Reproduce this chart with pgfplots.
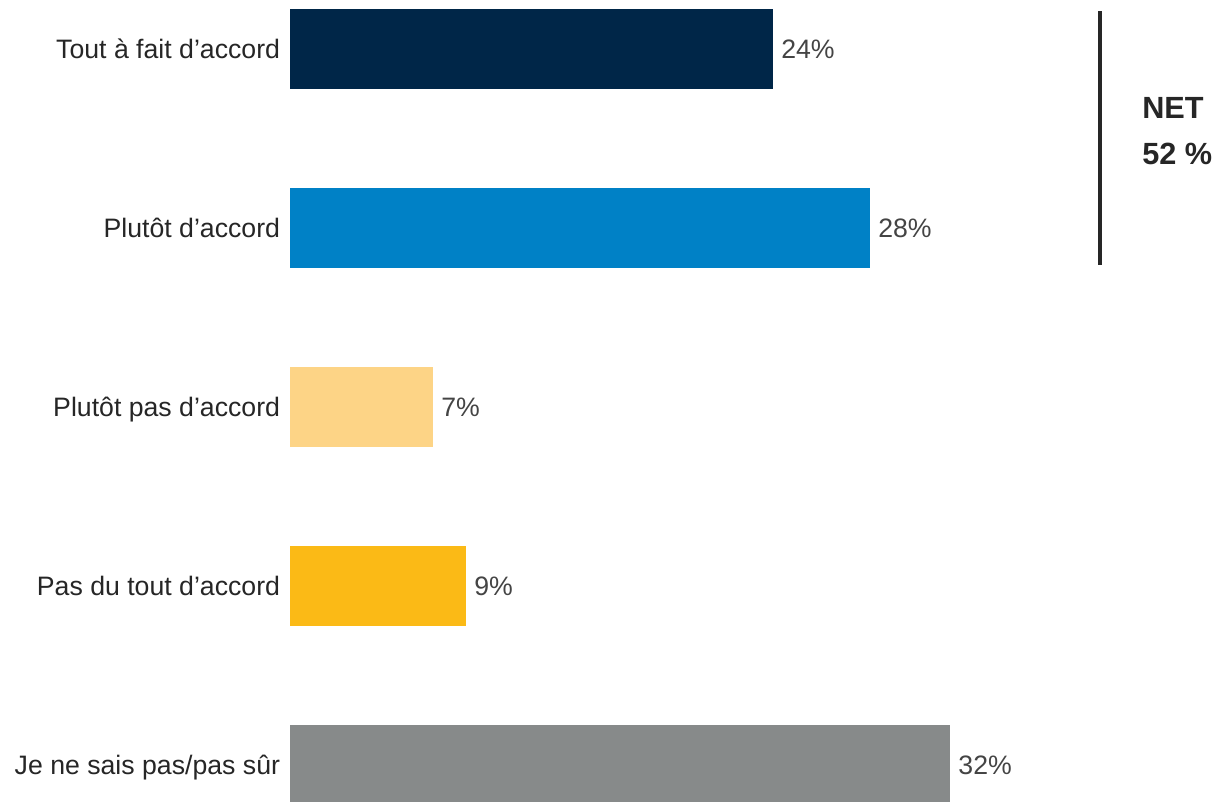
\documentclass[border=0pt]{standalone}
\usepackage{fontspec}
\setmainfont{Liberation Sans}
\usepackage{pgfplots}
\pgfplotsset{compat=1.18}

\definecolor{navy}{HTML}{002648}
\definecolor{midblue}{HTML}{0081C6}
\definecolor{paleyellow}{HTML}{FDD486}
\definecolor{gold}{HTML}{FBBA16}
\definecolor{midgray}{HTML}{878A8A}
\definecolor{labeltext}{HTML}{262626}
\definecolor{valuetext}{HTML}{444444}

\begin{document}
\begin{tikzpicture}
% page is 1221x801 px at 0.75pt per px
\useasboundingbox (0,0) rectangle (915.75pt,600.75pt);
\begin{axis}[
    at={(217.5pt,0pt)}, anchor=south west,
    scale only axis,
    width=618.75pt, height=600.75pt,
    xbar, bar width=60pt, bar shift=0pt,
    xmin=0, xmax=40.24,
    ymin=-0.274, ymax=4.201,
    y dir=reverse,
    hide x axis,
    axis line style={draw=none},
    major tick style={draw=none},
    ytick={0,1,2,3,4},
    yticklabels={Tout à fait d’accord, Plutôt d’accord, Plutôt pas d’accord, Pas du tout d’accord, Je ne sais pas/pas sûr},
    yticklabel style={font=\fontsize{20}{24}\selectfont, text=labeltext, inner sep=0pt,
        anchor=base east, xshift=-3pt, yshift=-7.3pt},
    point meta=x,
    /pgf/number format/assume math mode=true,
    nodes near coords={\pgfmathprintnumber[fixed,precision=0]\pgfplotspointmeta\%},
    nodes near coords style={font=\fontsize{20}{24}\selectfont, text=valuetext, anchor=west, inner sep=0pt, xshift=6pt},
    clip=false,
]
\addplot[draw=none, fill=navy] coordinates {(23.56,0)};
\addplot[draw=none, fill=midblue] coordinates {(28.29,1)};
\addplot[draw=none, fill=paleyellow] coordinates {(6.98,2)};
\addplot[draw=none, fill=gold] coordinates {(8.59,3)};
\addplot[draw=none, fill=midgray] coordinates {(32.2,4)};

% NET bracket
\draw[labeltext, line width=3pt] (axis cs:39.51,-0.212) -- (axis cs:39.51,1.207);
\node[anchor=west, align=left, inner sep=0pt, text=labeltext,
      font=\fontsize{23}{34.5}\selectfont\bfseries]
    at (axis cs:41.56,0.458) {NET\\52 \%};
\end{axis}
\end{tikzpicture}
\end{document}
